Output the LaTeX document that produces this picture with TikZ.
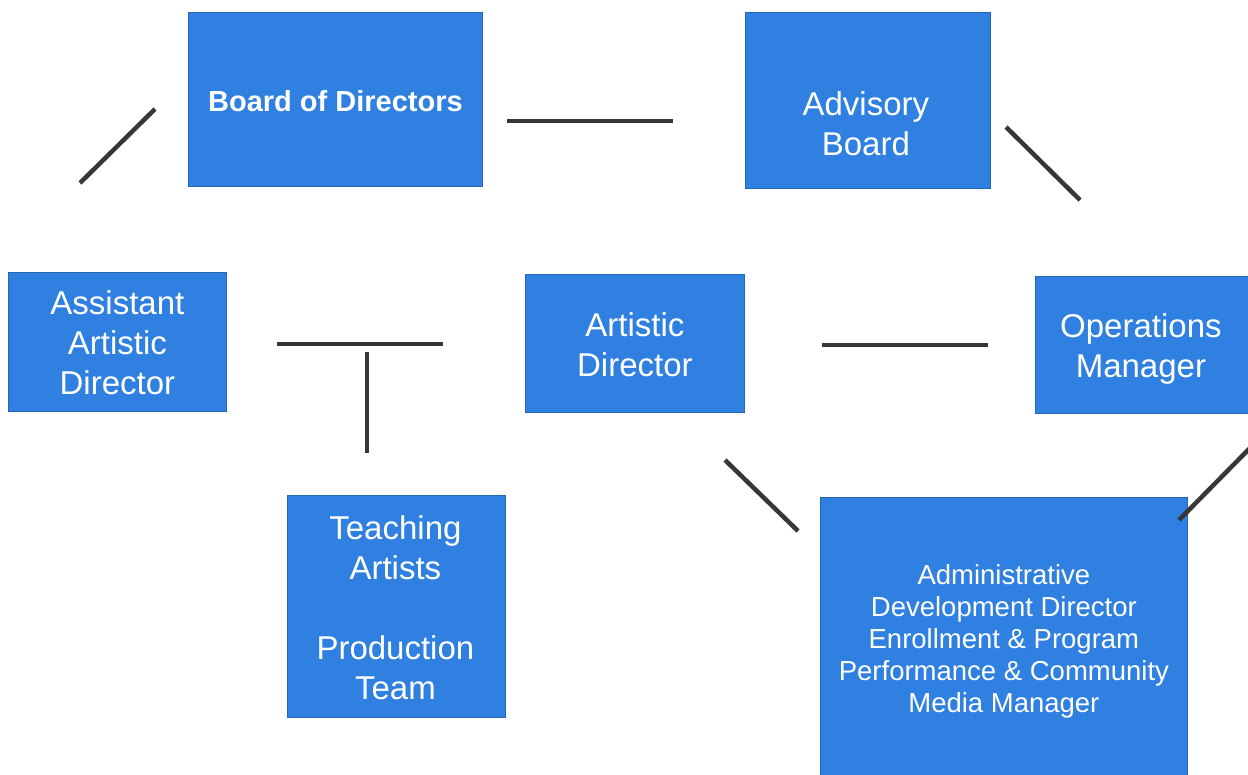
\documentclass[tikz,border=0pt]{standalone}
\usepackage{fontspec}
\setmainfont{Liberation Sans}
\definecolor{boxblue}{RGB}{47,128,224}
\definecolor{linegray}{RGB}{55,55,58}
\tikzset{
  box/.style={draw=boxblue!80!black, line width=0.8pt, fill=boxblue, inner sep=0pt, anchor=north west},
  txt/.style={text=white, align=center, font=\fontsize{33}{40}\selectfont, inner sep=0pt},
  small/.style={text=white, align=center, font=\fontsize{27.5}{32}\selectfont, inner sep=0pt},
  link/.style={draw=linegray, line width=4.5pt}
}
\begin{document}
\begin{tikzpicture}[x=1pt,y=-1pt]
\useasboundingbox (0,0) rectangle (1248,774);
% boxes
\node[box, minimum width=294pt, minimum height=174pt] (bod) at (188,12) {};
\node[box, minimum width=245pt, minimum height=176pt] (adv) at (745,12) {};
\node[box, minimum width=218pt, minimum height=139pt] (aad) at (8,272) {};
\node[box, minimum width=219pt, minimum height=138pt] (ad) at (525,274) {};
\node[box, minimum width=215pt, minimum height=137pt] (om) at (1035,276) {};
\node[box, minimum width=218pt, minimum height=222pt] (ta) at (287,495) {};
\node[box, minimum width=367pt, minimum height=280pt] (adm) at (820,497) {};
% texts
\node[txt, font=\bfseries\fontsize{29}{36}\selectfont] (bodt) at ([yshift=-2pt]bod.center) {Board of Directors};
\node[txt] (advt) at ([xshift=-2pt,yshift=-23pt]adv.center) {Advisory\\Board};
\node[txt] (aadt) at ([yshift=-1pt]aad.center) {Assistant\\Artistic\\Director};
\node[txt] (adt) at ([yshift=-1pt]ad.center) {Artistic\\Director};
\node[txt] (omt) at ([xshift=-2pt,yshift=-4pt]om.center) {Operations\\Manager};
\node[txt] (tat) at ([xshift=-1pt,yshift=-1pt]ta.center) {Teaching\\Artists\\[40pt]Production\\Team};
\node[small] (admt) at ([yshift=-4pt]adm.center) {Administrative\\Development Director\\Enrollment \& Program\\Performance \& Community\\Media Manager};
% connector end points
\coordinate (l1a) at (80,183);   \coordinate (l1b) at (155,109);
\coordinate (l2a) at (507,121);  \coordinate (l2b) at (673,121);
\coordinate (l3a) at (1006,127); \coordinate (l3b) at (1080,200);
\coordinate (l4a) at (277,344);  \coordinate (l4b) at (443,344);
\coordinate (l5a) at (367,352);  \coordinate (l5b) at (367,453);
\coordinate (l6a) at (822,345);  \coordinate (l6b) at (988,345);
\coordinate (l7a) at (725,460);  \coordinate (l7b) at (798,531);
\coordinate (l8a) at (1179,520); \coordinate (l8b) at (1250,448);
\draw[link] (l1a) -- (l1b);
\draw[link] (l2a) -- (l2b);
\draw[link] (l3a) -- (l3b);
\draw[link] (l4a) -- (l4b);
\draw[link] (l5a) -- (l5b);
\draw[link] (l6a) -- (l6b);
\draw[link] (l7a) -- (l7b);
\draw[link] (l8a) -- (l8b);
\end{tikzpicture}
\end{document}
